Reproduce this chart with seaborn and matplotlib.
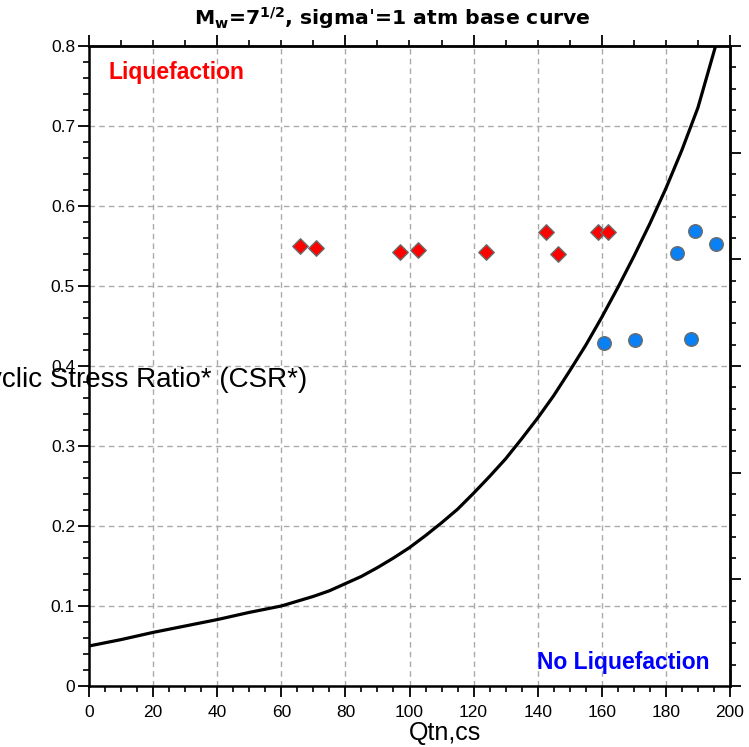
import matplotlib
matplotlib.use("Agg")
import matplotlib.pyplot as plt
import seaborn as sns
import pandas as pd
from matplotlib.ticker import MultipleLocator, NullFormatter

# ---- data ----
curve_q = [0, 10, 20, 30, 40, 50, 55, 60, 65, 70, 75, 80, 85, 90, 95, 100,
           105, 110, 115, 120, 125, 130, 135, 140, 145, 150, 155, 160, 165,
           170, 175, 180, 185, 190, 195.5]
curve_csr = [0.050, 0.058, 0.067, 0.075, 0.083, 0.092, 0.096, 0.100, 0.106,
             0.112, 0.119, 0.128, 0.137, 0.148, 0.160, 0.173, 0.188, 0.204,
             0.221, 0.241, 0.262, 0.284, 0.309, 0.335, 0.363, 0.394, 0.426,
             0.461, 0.498, 0.537, 0.578, 0.622, 0.670, 0.723, 0.800]

liq_q = [65.8, 70.8, 97.0, 102.7, 123.9, 142.5, 146.2, 158.7, 162.0]
liq_csr = [0.550, 0.548, 0.542, 0.545, 0.542, 0.567, 0.540, 0.567, 0.567]

noliq_q = [160.8, 170.4, 187.7, 183.4, 189.1, 195.7]
noliq_csr = [0.429, 0.432, 0.434, 0.541, 0.569, 0.552]

x_ticks = [0, 20, 40, 60, 80, 100, 120, 140, 160, 180, 200]
x_tick_labels = [str(v) for v in x_ticks]
y_ticks = [0, 0.1, 0.2, 0.3, 0.4, 0.5, 0.6, 0.7, 0.8]
y_tick_labels = ["0", "0.1", "0.2", "0.3", "0.4", "0.5", "0.6", "0.7", "0.8"]

title_text = r"M$_{\mathbf{w}}$=7$^{\mathbf{1/2}}$, sigmaˈ=1 atm base curve"
xlabel_text = "Qtn,cs"
ylabel_text = "Cyclic Stress Ratio* (CSR*)"
liq_text = "Liquefaction"
noliq_text = "No Liquefaction"

curve_df = pd.DataFrame({"Qtn,cs": curve_q, "CSR": curve_csr})
liq_df = pd.DataFrame({"Qtn,cs": liq_q, "CSR": liq_csr})
noliq_df = pd.DataFrame({"Qtn,cs": noliq_q, "CSR": noliq_csr})

# ---- style ----
sns.set_style("white")
plt.rcParams["font.family"] = ["Liberation Sans Narrow", "Liberation Sans", "DejaVu Sans"]
plt.rcParams["mathtext.fontset"] = "dejavusans"
plt.rcParams["text.color"] = "black"
plt.rcParams["axes.labelcolor"] = "black"
plt.rcParams["xtick.color"] = "black"
plt.rcParams["ytick.color"] = "black"

W, H = 749, 747
fig = plt.figure(figsize=(W / 100, H / 100), dpi=100)
ax = fig.add_axes([89 / W, 1 - 686 / H, 641 / W, 640 / H])

sns.lineplot(data=curve_df, x="Qtn,cs", y="CSR", ax=ax, color="black",
             linewidth=2.3, zorder=2)
sns.scatterplot(data=liq_df, x="Qtn,cs", y="CSR", ax=ax, marker="D", s=62,
                color="#FF0000", edgecolor="#6a6a6a", linewidth=1.0, zorder=4)
sns.scatterplot(data=noliq_df, x="Qtn,cs", y="CSR", ax=ax, marker="o", s=95,
                color="#0A80F5", edgecolor="#6a6a6a", linewidth=1.0, zorder=4)

ax.set_xlim(0, 200)
ax.set_ylim(0, 0.8)
ax.set_xticks(x_ticks)
ax.set_xticklabels(x_tick_labels)
ax.set_yticks(y_ticks)
ax.set_yticklabels(y_tick_labels)
ax.xaxis.set_minor_locator(MultipleLocator(5))
ax.yaxis.set_minor_locator(MultipleLocator(0.02))

ax.grid(True, which="major", color="#aaaaaa", linestyle=(0, (4, 3)), linewidth=1.0)
ax.set_axisbelow(True)

ax.tick_params(which="major", direction="out", length=8, width=1.3,
               labelsize=12.5, colors="black", pad=2,
               bottom=True, left=True, top=False, right=False)
ax.tick_params(which="minor", direction="out", length=4.5, width=1.2,
               bottom=True, left=True, top=False, right=False)
ax.tick_params(axis="x", which="major", pad=6)

for sp in ax.spines.values():
    sp.set_linewidth(1.8)
    sp.set_color("black")

# top axis ticks (no labels)
top = ax.secondary_xaxis("top")
top.xaxis.set_major_locator(MultipleLocator(40))
top.xaxis.set_minor_locator(MultipleLocator(10))
top.xaxis.set_major_formatter(NullFormatter())
top.tick_params(which="major", direction="out", length=8, width=1.3)
top.tick_params(which="minor", direction="out", length=4.5, width=1.2)
top.spines["top"].set_linewidth(1.8)

# right axis ticks (no labels)
right = ax.secondary_yaxis("right", functions=(lambda y: y * 7.5, lambda v: v / 7.5))
right.yaxis.set_major_locator(MultipleLocator(1))
right.yaxis.set_minor_locator(MultipleLocator(0.2))
right.yaxis.set_major_formatter(NullFormatter())
right.tick_params(which="major", direction="out", length=8, width=1.3)
right.tick_params(which="minor", direction="out", length=4.5, width=1.2)
right.spines["right"].set_linewidth(1.8)

# labels
ax.set_xlabel(xlabel_text, fontsize=18, family=["Liberation Sans", "DejaVu Sans"],
              ha="center", va="center", color="black")
ax.xaxis.set_label_coords((445 - 89) / 641, (686 - 733) / 640)
ax.set_ylabel(ylabel_text, fontsize=20, family=["Liberation Sans", "DejaVu Sans"],
              rotation=0, ha="center", va="center", color="black")
ax.yaxis.set_label_coords((138 - 89) / 641, (686 - 380) / 640)

ax.text((392 - 89) / 641, (686 - 18) / 640, title_text, transform=ax.transAxes,
        fontsize=14.7, fontweight="bold", family=["DejaVu Sans"],
        ha="center", va="center", color="black")

ax.text((176 - 89) / 641, (686 - 72) / 640, liq_text, transform=ax.transAxes,
        color="#FF0000", fontsize=16.5, fontweight="bold",
        family=["Liberation Sans", "DejaVu Sans"], ha="center", va="center")
ax.text((623 - 89) / 641, (686 - 662) / 640, noliq_text, transform=ax.transAxes,
        color="#0000FF", fontsize=16.5, fontweight="bold",
        family=["Liberation Sans", "DejaVu Sans"], ha="center", va="center")

fig.savefig("out.png", dpi=100)
